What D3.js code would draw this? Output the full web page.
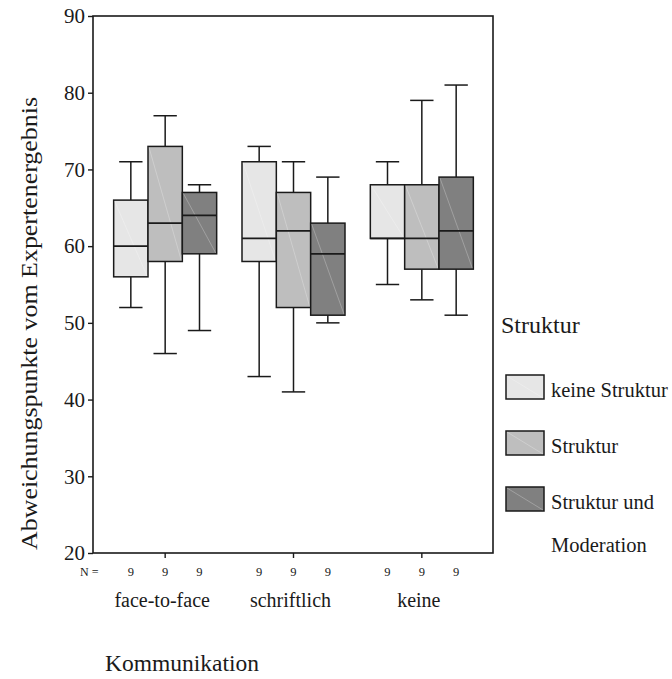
<!DOCTYPE html>
<html>
<head>
<meta charset="utf-8">
<script src="https://cdn.jsdelivr.net/npm/d3@7/dist/d3.min.js"></script>
<style>
  html, body { margin: 0; padding: 0; background: #fff; }
  svg { display: block; }
  svg text { font-family: "Liberation Serif", "Times New Roman", "DejaVu Serif", serif; }
</style>
</head>
<body>
<svg id="chart" width="672" height="679"></svg>
<script>
// Communication groups (x axis) and structure conditions (legend)
const groups = ["face-to-face", "schriftlich", "keine"];
const series = ["keine Struktur", "Struktur", "Struktur und Moderation"];
const seriesColors = ["#e6e6e6", "#bebebe", "#808080"];

// Box statistics per condition, one value per communication group
const whiskerLow  = { "keine Struktur": [52, 43, 55], "Struktur": [46, 41, 53], "Struktur und Moderation": [49, 50, 51] };
const quartile1   = { "keine Struktur": [56, 58, 61], "Struktur": [58, 52, 57], "Struktur und Moderation": [59, 51, 57] };
const medians     = { "keine Struktur": [60, 61, 61], "Struktur": [63, 62, 61], "Struktur und Moderation": [64, 59, 62] };
const quartile3   = { "keine Struktur": [66, 71, 68], "Struktur": [73, 67, 68], "Struktur und Moderation": [67, 63, 69] };
const whiskerHigh = { "keine Struktur": [71, 73, 71], "Struktur": [77, 71, 79], "Struktur und Moderation": [68, 69, 81] };
const groupN      = { "keine Struktur": [9, 9, 9], "Struktur": [9, 9, 9], "Struktur und Moderation": [9, 9, 9] };

const yTicks = [20, 30, 40, 50, 60, 70, 80, 90];

const svg = d3.select("#chart");
const ink = "#1a1a1a";
const serif = "'Liberation Serif', 'Times New Roman', 'DejaVu Serif', serif";

const plot = { left: 93, right: 493, top: 16, bottom: 553 };

const y = d3.scaleLinear().domain([20, 90]).range([plot.bottom, plot.top]);
const xGroup = d3.scaleBand().domain(groups).range([101, 486]).paddingInner(0);
const xSeries = d3.scaleBand().domain(series).range([-51.5, 51.5]).paddingInner(0);
const color = d3.scaleOrdinal().domain(series).range(seriesColors);

// Plot frame
svg.append("rect")
  .attr("x", plot.left).attr("y", plot.top)
  .attr("width", plot.right - plot.left).attr("height", plot.bottom - plot.top)
  .attr("fill", "none").attr("stroke", ink).attr("stroke-width", 1.6);

// Y axis
const yAxis = svg.append("g")
  .attr("transform", `translate(${plot.left},0)`)
  .call(d3.axisLeft(y).tickValues(yTicks).tickSize(5).tickPadding(3).tickFormat(d3.format("d")));
yAxis.attr("font-family", null).attr("font-size", null);
yAxis.select(".domain").remove();
yAxis.selectAll(".tick line").attr("stroke", ink).attr("stroke-width", 1.4);
yAxis.selectAll(".tick text")
  .attr("fill", ink)
  .style("font-family", serif)
  .style("font-size", "21px");

// Y axis title
svg.append("text")
  .attr("transform", `translate(37,323.5) rotate(-90)`)
  .attr("text-anchor", "middle")
  .attr("fill", ink)
  .attr("textLength", 453)
  .attr("lengthAdjust", "spacingAndGlyphs")
  .style("font-size", "24px")
  .text("Abweichungspunkte vom Expertenergebnis");

// X axis ticks at group centres
const xAxis = svg.append("g")
  .attr("transform", `translate(0,${plot.bottom})`)
  .call(d3.axisBottom(xGroup).tickSize(5).tickFormat(""));
xAxis.select(".domain").remove();
xAxis.selectAll(".tick line").attr("stroke", ink).attr("stroke-width", 1.4);

// Boxes
const boxes = [];
series.forEach(s => {
  groups.forEach((g, i) => {
    boxes.push({
      series: s, group: g,
      lo: whiskerLow[s][i], q1: quartile1[s][i], med: medians[s][i],
      q3: quartile3[s][i], hi: whiskerHigh[s][i], n: groupN[s][i]
    });
  });
});

const bw = xSeries.bandwidth();
const capW = bw * 0.68;
const boxG = svg.append("g")
  .selectAll("g")
  .data(boxes)
  .join("g")
  .attr("transform", d => `translate(${xGroup(d.group) + xGroup.bandwidth() / 2 + xSeries(d.series)},0)`);

// whiskers
boxG.append("line")
  .attr("x1", bw / 2).attr("x2", bw / 2)
  .attr("y1", d => y(d.hi)).attr("y2", d => y(d.q3))
  .attr("stroke", ink).attr("stroke-width", 1.5);
boxG.append("line")
  .attr("x1", bw / 2).attr("x2", bw / 2)
  .attr("y1", d => y(d.q1)).attr("y2", d => y(d.lo))
  .attr("stroke", ink).attr("stroke-width", 1.5);
boxG.append("line")
  .attr("x1", bw / 2 - capW / 2).attr("x2", bw / 2 + capW / 2)
  .attr("y1", d => y(d.hi)).attr("y2", d => y(d.hi))
  .attr("stroke", ink).attr("stroke-width", 1.5);
boxG.append("line")
  .attr("x1", bw / 2 - capW / 2).attr("x2", bw / 2 + capW / 2)
  .attr("y1", d => y(d.lo)).attr("y2", d => y(d.lo))
  .attr("stroke", ink).attr("stroke-width", 1.5);

// box body
boxG.append("rect")
  .attr("x", 0).attr("width", bw)
  .attr("y", d => y(d.q3)).attr("height", d => y(d.q1) - y(d.q3))
  .attr("fill", d => color(d.series))
  .attr("stroke", ink).attr("stroke-width", 1.5);
// faint sheen diagonal across the box
boxG.append("line")
  .attr("x1", 1).attr("x2", bw - 1)
  .attr("y1", d => y(d.q3) + 1).attr("y2", d => y(d.q1) - 1)
  .attr("stroke", "#ffffff").attr("stroke-opacity", 0.25).attr("stroke-width", 1);
// median
boxG.append("line")
  .attr("x1", 0).attr("x2", bw)
  .attr("y1", d => y(d.med)).attr("y2", d => y(d.med))
  .attr("stroke", ink).attr("stroke-width", 1.8);

// N counts
svg.append("text")
  .attr("x", 80).attr("y", 576)
  .attr("fill", ink)
  .style("font-size", "12px")
  .text("N =");
boxG.append("text")
  .attr("x", bw / 2).attr("y", 576)
  .attr("text-anchor", "middle")
  .attr("fill", ink)
  .style("font-size", "12.5px")
  .text(d => d.n);

// group labels
svg.append("g").selectAll("text")
  .data(groups)
  .join("text")
  .attr("x", d => xGroup(d) + xGroup.bandwidth() / 2 - 3)
  .attr("y", 607)
  .attr("text-anchor", "middle")
  .attr("fill", ink)
  .style("font-size", "20px")
  .text(d => d);

// x axis title
svg.append("text")
  .attr("x", 105).attr("y", 671)
  .attr("fill", ink)
  .style("font-size", "23.5px")
  .text("Kommunikation");

// Legend
svg.append("text")
  .attr("x", 501).attr("y", 333)
  .attr("fill", ink)
  .style("font-size", "24px")
  .text("Struktur");

const legendRows = [375, 431, 487];
const leg = svg.append("g").selectAll("g")
  .data(series)
  .join("g")
  .attr("transform", (d, i) => `translate(506,${legendRows[i]})`);
leg.append("rect")
  .attr("width", 38).attr("height", 24)
  .attr("fill", d => color(d))
  .attr("stroke", ink).attr("stroke-width", 1.5);
leg.append("line")
  .attr("x1", 1).attr("y1", 1).attr("x2", 37).attr("y2", 23)
  .attr("stroke", "#ffffff").attr("stroke-opacity", 0.25);
leg.append("text")
  .attr("x", 45).attr("y", 21.5)
  .attr("fill", ink)
  .style("font-size", "20.5px")
  .each(function(d) {
    const t = d3.select(this);
    if (d === "Struktur und Moderation") {
      t.append("tspan").attr("x", 45).text("Struktur und");
      t.append("tspan").attr("x", 45).attr("dy", 43).text("Moderation");
    } else {
      t.text(d);
    }
  });
</script>
</body>
</html>
